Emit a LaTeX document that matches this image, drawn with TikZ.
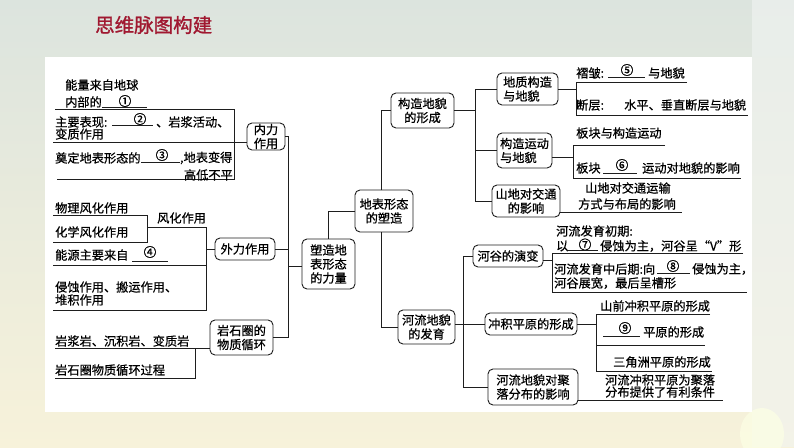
\documentclass[tikz,border=0pt]{standalone}
\usepackage{fontspec}
\setmainfont{Noto Sans CJK SC}
\newfontfamily\cjk{Noto Sans CJK SC}[RawFeature={embolden=0.7}]
\newfontfamily\cjkt{Noto Sans CJK SC}[RawFeature={embolden=1.2}]
\definecolor{titlered}{RGB}{160,24,48}
\definecolor{bgtop}{RGB}{220,228,222}
\definecolor{bgbot}{RGB}{247,242,218}
\definecolor{ln}{RGB}{30,30,30}
\newcommand\myfs{\cjk\fontsize{12.2}{14}\selectfont}
\newcommand\numfs{\cjk\fontsize{12.6}{13}\selectfont}
\begin{document}
\begin{tikzpicture}[x=1pt,y=-1pt,
  lk/.style={line width=0.9pt, draw=ln},
  box/.style={draw=ln, line width=0.9pt, rounded corners=5pt, fill=white, inner sep=0pt, align=center, font=\myfs},
  txt/.style={anchor=west, inner sep=0pt, font=\myfs},
  txr/.style={anchor=east, inner sep=0pt, font=\myfs},
  num/.style={inner sep=0pt, font=\numfs}]
\useasboundingbox (0,0) rectangle (794,447);
\shade[top color=bgtop, bottom color=bgbot] (0,0) rectangle (794,447);
\fill[white!60!bgtop, opacity=0.6] (752,0) rectangle (794,447);
\fill[green!12!yellow!10!white, opacity=0.7] (762,434) ellipse (22pt and 26pt);
\fill[white] (45,57) rectangle (752,412);
\node[anchor=west, inner sep=0pt, text=titlered, font=\cjkt\fontsize{19.5}{20}\selectfont] (title) at (95,25) {思维脉图构建};

% ---------- boxes ----------
\node[box, minimum width=38pt, minimum height=27pt] (neili) at (266,136.5) {内力\\作用};
\node[box, minimum width=60pt, minimum height=22pt] (waili) at (245,249) {外力作用};
\node[box, minimum width=63pt, minimum height=35pt] (yanshi) at (241.5,337.5) {岩石圈的\\物质循环};
\node[box, minimum width=53pt, minimum height=50pt] (suzao) at (328.5,264) {塑造地\\表形态\\的力量};
\node[box, minimum width=58pt, minimum height=42pt] (dibiao) at (384,211) {地表形态\\的塑造};
\node[box, minimum width=63pt, minimum height=35pt] (gouzao) at (422.5,110.5) {构造地貌\\的形成};
\node[box, minimum width=57pt, minimum height=34pt] (heliu) at (426.5,327) {河流地貌\\的发育};
\node[box, minimum width=61pt, minimum height=32pt, align=left] (dizhi) at (527.5,89) {地质构造\\与地貌};
\node[box, minimum width=55pt, minimum height=35pt, align=left] (gyd) at (524.5,150.5) {构造运动\\与地貌};
\node[box, minimum width=68pt, minimum height=32pt] (shandi) at (526,201) {山地对交通\\的影响};
\node[box, minimum width=70pt, minimum height=22pt] (hegu) at (508,256) {河谷的演变};
\node[box, minimum width=92pt, minimum height=22pt] (cjpy) at (531,324) {冲积平原的形成};
\node[box, minimum width=90pt, minimum height=36pt] (juluo) at (533,387) {河流地貌对聚\\落分布的影响};

% ---------- main connectors ----------
\draw[lk] (neili.east) -- (288,136.5) -- (288,337.5) -- (yanshi.east);
\draw[lk] (waili.east) -- (288,249);
\draw[lk] (288,266) -- (suzao.west |- 0,266);
\draw[lk] (suzao.north) |- (dibiao.west);
\draw[lk] (381,190) |- (gouzao.west);
\draw[lk] (381,232) |- (heliu.west);
\draw[lk] (gouzao.east) -- (475,110.5);
\draw[lk] (dizhi.west) -| (475,201) -- (shandi.west);
\draw[lk] (gyd.west) -- (475,150.5);
\draw[lk] (cjpy.west) -- (cjpy.west -| heliu.east);
\draw[lk] (hegu.west) -| (463,387) -- (juluo.west);

% ---------- left: 内力作用 ----------
\node[txt] (a1) at (65,85) {能量来自地球};
\node[txt] (a2) at (65,102) {内部的};
\node[num] (n1) at (125,101) {①};
\draw[lk] (102,107) -- (147,107);
\draw[lk] (55,109) -- (234,109) -- (234,179) -- (57,179);
\draw[lk] (53,142) -- (neili.west |- 0,142);
\node[txt] (b1) at (55,122) {主要表现:};
\node[num] (n2) at (140,119) {②};
\draw[lk] (112,125) -- (153,125);
\node[txt] (b2) at (156,122) {、岩浆活动、};
\node[txt] (b3) at (55,134) {变质作用};
\node[txt] (c1) at (55,158) {奠定地表形态的};
\node[num] (n3) at (162,155) {③};
\draw[lk] (141,162) -- (180,162);
\node[txt] (c2) at (180,158) {,地表变得};
\node[txr] (c3) at (233,175) {高低不平};

% ---------- left: 外力作用 ----------
\node[txt] (d1) at (55,208) {物理风化作用};
\node[txt] (d2) at (55,232) {化学风化作用};
\draw[lk] (53,215) -- (147,215) -- (147,242) -- (53,242);
\node[txt] (d3) at (157,218) {风化作用};
\draw[lk] (147,227) -- (206,227) -- (206,310) -- (53,310);
\draw[lk] (206,249) -- (waili.west);
\node[txt] (e1) at (55,255) {能源主要来自};
\node[num] (n4) at (150,252) {④};
\draw[lk] (132,261) -- (168,261);
\draw[lk] (53,265) -- (206,265);
\node[txt] (f1) at (55,287) {侵蚀作用、搬运作用、};
\node[txt] (f2) at (55,300) {堆积作用};

% ---------- left: 岩石圈 ----------
\node[txt] (g1) at (55,341) {岩浆岩、沉积岩、变质岩};
\node[txt] (g2) at (55,370) {岩石圈物质循环过程};
\draw[lk] (55,348) -- (yanshi.west |- 0,348);
\draw[lk] (195,348) -- (195,378) -- (55,378);

% ---------- right: 地质构造 ----------
\draw[lk] (dizhi.east) -- (576,89);
\draw[lk] (687,82) -- (576,82) -- (576,115) -- (748,115);
\node[txt] (h1) at (576,73) {褶皱:};
\node[num] (n5) at (627,70) {⑤};
\draw[lk] (608,77) -- (645,77);
\node[txt] (h2) at (648,73) {与地貌};
\node[txt] (h3) at (576,105) {断层:};
\node[txt] (h4) at (624,105) {水平、垂直断层与地貌};

% ---------- right: 构造运动 ----------
\draw[lk] (gyd.east |- 0,157) -- (573,157);
\draw[lk] (665,145) -- (573,145) -- (573,178) -- (741,178);
\node[txt] (i1) at (576,133) {板块与构造运动};
\node[txt] (i2) at (576,168) {板块};
\node[num] (n6) at (622,165) {⑥};
\draw[lk] (603,173) -- (637,173);
\node[txt] (i3) at (642,168) {运动对地貌的影响};

% ---------- right: 山地 ----------
\draw[lk] (shandi.east |- 0,212.5) -- (682,212.5);
\node[txt] (j1) at (585,188) {山地对交通运输};
\node[txt] (j2) at (578,204) {方式与布局的影响};

% ---------- right: 河谷 ----------
\draw[lk] (hegu.east |- 0,260) -- (552,260);
\draw[lk] (743,253) -- (552,253) -- (552,292) -- (747,292);
\node[txt] (k1) at (556,231) {河流发育初期:};
\node[txt] (k2) at (556,246) {以};
\node[num] (n7) at (585,244.5) {⑦};
\draw[lk] (568,250) -- (598,250);
\node[txt] (k3) at (600,246) {侵蚀为主，河谷呈“V”形};
\node[txt] (k4) at (554,269) {河流发育中后期:向};
\node[num] (n8) at (673,266) {⑧};
\draw[lk] (657,273) -- (690,273);
\node[txt] (k5) at (692,269) {侵蚀为主，};
\node[txt] (k6) at (554,283) {河谷展宽，最后呈槽形};

% ---------- right: 冲积平原 ----------
\draw[lk] (cjpy.east) -- (596,324);
\draw[lk] (710,314) -- (596,314) -- (596,371) -- (712,371);
\draw[lk] (596,345) -- (705,345);
\node[txt] (l1) at (600,306) {山前冲积平原的形成};
\node[num] (n9) at (625,328) {⑨};
\draw[lk] (603,336) -- (640,336);
\node[txt] (l2) at (643,332) {平原的形成};
\node[txt] (l3) at (613,362) {三角洲平原的形成};

% ---------- right: 聚落 ----------
\draw[lk] (juluo.east |- 0,400) -- (723,400);
\node[txt] (m1) at (605,380) {河流冲积平原为聚落};
\node[txt] (m2) at (605,392) {分布提供了有利条件};
\end{tikzpicture}
\end{document}
